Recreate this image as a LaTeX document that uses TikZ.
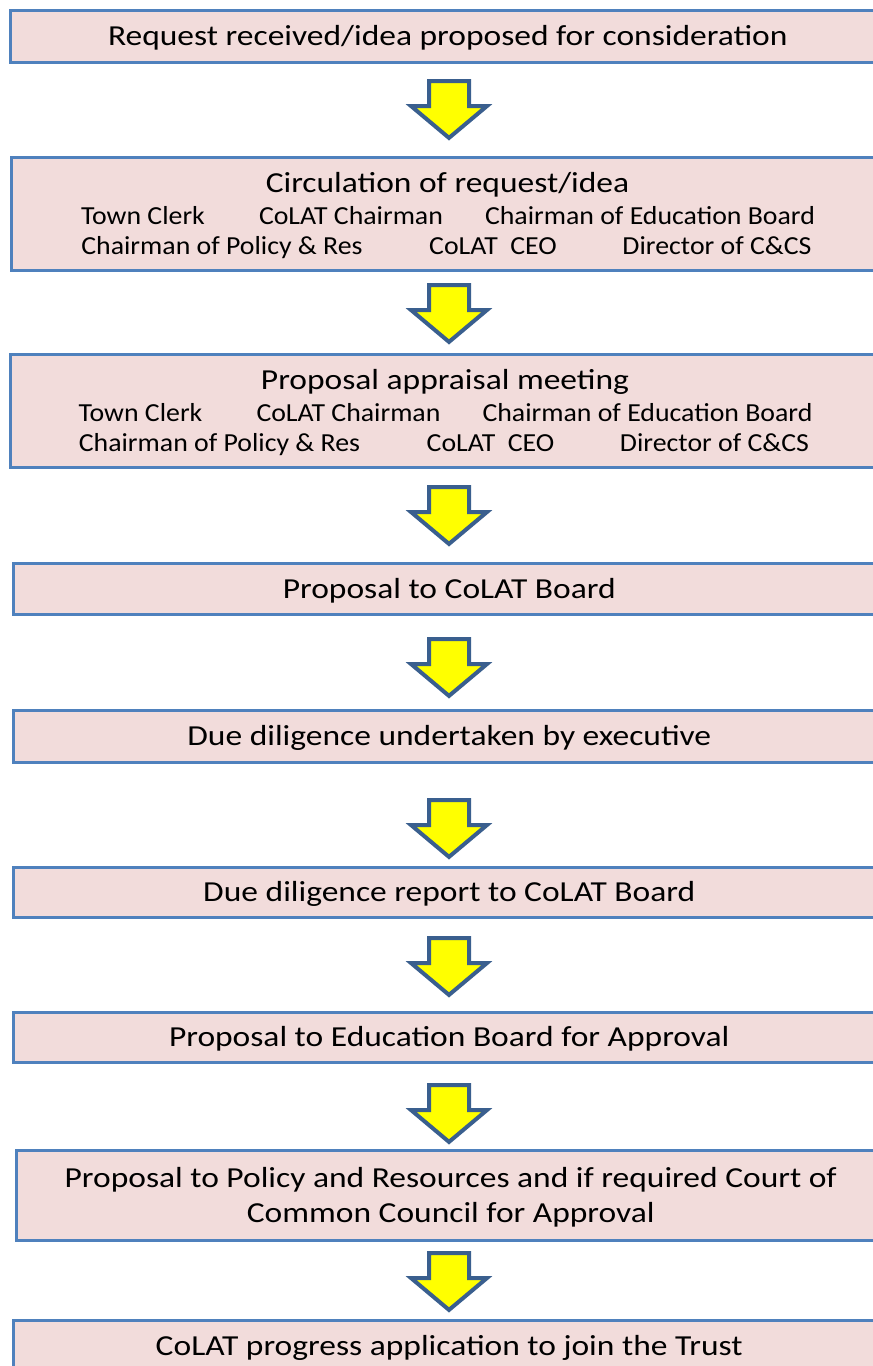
\documentclass[tikz,border=0pt]{standalone}
\usepackage{fontspec}
\setmainfont{Carlito}
\newfontfamily\stagefont{Carlito}[FakeStretch=1.155]
\newfontfamily\memberfont{Carlito}[FakeStretch=1.07]
\usepackage{xcolor}
\usepackage{tikz}
\usetikzlibrary{shapes.arrows}
\definecolor{stagefill}{HTML}{F2DCDB}
\definecolor{stageline}{HTML}{4F81BD}
\definecolor{flowfill}{HTML}{FFFF00}
\definecolor{flowline}{HTML}{3A5F8E}
\tikzstyle{stage} = [rectangle, draw = stageline, fill = stagefill, line width = 2.5pt, anchor = north west, inner sep = 0, align = center, text height = 19.5pt, text depth = 1pt, font = \stagefont\fontsize{29}{35}\selectfont]
\tikzstyle{heading} = [draw = none, inner sep = 0, text height = 19.5pt, text depth = 1pt, font = \stagefont\fontsize{29}{35}\selectfont]
\tikzstyle{member} = [draw = none, inner sep = 0, text height = 17.5pt, text depth = 1pt, font = \memberfont\fontsize{26}{30}\selectfont]
\tikzstyle{flow} = [single arrow, draw = flowline, fill = flowfill, line width = 4pt, shape border rotate = 270, anchor = tip, inner sep = 18pt, single arrow head extend = 18pt, single arrow tip angle = 100, minimum height = 55pt]
% the six people a request goes round
\newcommand{\members}[4]{%
  \node [member] (#1clerk) at (143+#2, #3) {Town Clerk};
  \node [member] (#1chair) at (351+#2, #3) {CoLAT Chairman};
  \node [member] (#1edu) at (650+#2, #3) {Chairman of Education Board};
  \node [member] (#1policy) at (222+#2, #4) {Chairman of Policy \& Res};
  \node [member] (#1ceo) at (493+#2, #4) {CoLAT\ \ CEO};
  \node [member] (#1ccs) at (717+#2, #4) {Director of C\&CS};
}

\begin{document}
\begin{tikzpicture}[x = 1pt, y = -1pt]
\useasboundingbox (0, 0) rectangle (873, 1366);
\clip (0, 0) rectangle (873, 1366);
\node [stage, minimum width = 875pt, minimum height = 52pt] (request) at (9, 9) {Request received/idea proposed for consideration};
\node [stage, minimum width = 874pt, minimum height = 113pt] (circulation) at (10, 156) {};
\node [heading] (circtitle) at (447.5, 183) {Circulation of request/idea};
\members{circ}{0}{216}{246}
\node [stage, minimum width = 875pt, minimum height = 113pt] (appraisal) at (9, 353) {};
\node [heading] (apptitle) at (445, 380) {Proposal appraisal meeting};
\members{app}{-2.5}{413}{443}
\node [stage, minimum width = 872pt, minimum height = 51pt] (board) at (12, 562) {Proposal to CoLAT Board};
\node [stage, minimum width = 872pt, minimum height = 52pt] (diligence) at (12, 709) {Due diligence undertaken by executive};
\node [stage, minimum width = 872pt, minimum height = 50pt] (report) at (12, 866) {Due diligence report to CoLAT Board};
\node [stage, minimum width = 872pt, minimum height = 50pt] (education) at (12, 1011) {Proposal to Education Board for Approval};
\node [stage, minimum width = 869pt, minimum height = 90pt, text height = 54.5pt] (council) at (15, 1149) {Proposal to Policy and Resources and if required Court of\\Common Council for Approval};
\node [stage, minimum width = 872pt, minimum height = 52pt] (trust) at (12, 1319) {CoLAT progress application to join the Trust};
% block arrows, placed by their tips
\node [flow] (a1) at (449, 140.5) {};
\node [flow] (a2) at (449, 344.5) {};
\node [flow] (a3) at (449, 546.5) {};
\node [flow] (a4) at (449, 698.5) {};
\node [flow] (a5) at (449, 859.5) {};
\node [flow] (a6) at (449, 997.5) {};
\node [flow] (a7) at (449, 1144.5) {};
\node [flow] (a8) at (449, 1312.5) {};
\end{tikzpicture}
\end{document}
